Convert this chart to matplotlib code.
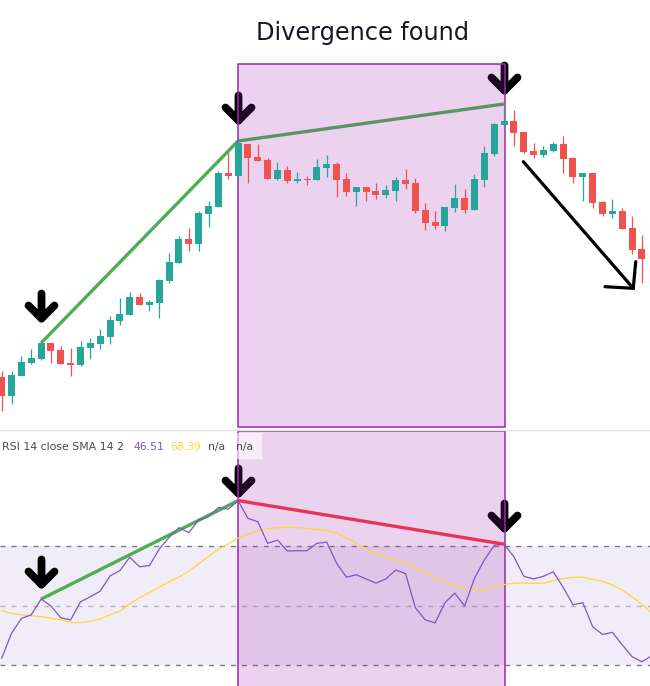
import numpy as np
import matplotlib
matplotlib.use("Agg")
import matplotlib.pyplot as plt
from matplotlib.patches import Rectangle
from matplotlib.path import Path
from matplotlib.markers import MarkerStyle
from matplotlib.lines import Line2D

# --- price candles (arbitrary price scale) ---
opens = [53, 34, 54, 67, 71, 87, 80, 67, 65, 82, 86, 93, 109, 115, 133, 125, 127, 149, 167, 191,
         186, 216, 223, 257, 254, 286, 273, 270, 251, 260, 249, 251, 250, 262, 266, 251, 238, 243,
         239, 235, 239, 250, 247, 220, 208, 204, 222, 232, 220, 250, 276, 305, 309, 298, 279, 275,
         279, 286, 272, 253, 257, 228, 216, 219, 202, 181]
highs = [59, 59, 74, 81, 87, 87, 84, 82, 89, 92, 101, 114, 132, 138, 137, 130, 151, 177, 194, 202,
         219, 229, 259, 280, 290, 286, 286, 272, 268, 264, 258, 254, 271, 275, 268, 257, 243, 243,
         247, 245, 253, 261, 252, 227, 219, 223, 246, 241, 256, 284, 307, 322, 320, 298, 287, 284,
         288, 294, 273, 257, 257, 229, 231, 222, 214, 195]
lows = [19, 26, 54, 66, 70, 67, 66, 54, 64, 71, 81, 86, 105, 115, 125, 119, 112, 147, 167, 179,
        179, 203, 223, 251, 252, 247, 269, 251, 250, 247, 247, 245, 250, 253, 233, 234, 224, 229,
        231, 232, 229, 241, 217, 200, 201, 199, 218, 217, 220, 243, 274, 304, 284, 277, 272, 273,
        278, 257, 247, 229, 222, 214, 212, 201, 176, 147]
closes = [34, 55, 68, 72, 87, 79, 66, 65, 83, 87, 94, 110, 116, 133, 125, 128, 150, 168, 191, 186,
          217, 224, 257, 254, 287, 272, 269, 251, 260, 249, 251, 250, 263, 266, 250, 238, 243, 238,
          235, 240, 250, 246, 219, 207, 204, 223, 232, 220, 251, 277, 306, 309, 297, 278, 275, 280,
          286, 271, 253, 257, 227, 216, 219, 201, 180, 171]

# --- RSI 14 and its SMA 14 ---
rsi = [32.3, 40.7, 45.7, 46.9, 52.2, 49.9, 45.9, 45.2, 51.3, 53.0, 54.9, 60.0, 61.8, 66.3, 63.1,
       63.5, 69.1, 73.0, 76.3, 74.6, 78.9, 80.0, 83.1, 82.5, 85.4, 79.4, 78.3, 71.0, 72.1, 68.4,
       68.5, 68.5, 71.0, 71.4, 64.3, 59.6, 60.4, 59.0, 57.6, 59.0, 62.0, 60.8, 49.3, 45.2, 44.2,
       51.0, 54.2, 49.9, 59.2, 65.4, 70.3, 70.7, 66.5, 59.9, 59.0, 59.9, 61.4, 56.2, 50.3, 51.0,
       42.9, 40.3, 41.0, 36.8, 32.8, 31.1, 33.1]
rsi_sma = [48.4, 47.4, 46.9, 46.6, 46.3, 45.8, 45.2, 44.3, 44.3, 44.7, 45.5, 46.9, 48.2, 50.6,
           52.7, 54.4, 56.3, 58.1, 59.7, 61.6, 64.1, 66.6, 69.0, 70.8, 72.7, 74.1, 75.3, 75.9,
           76.3, 76.4, 76.3, 76.0, 75.7, 75.4, 74.5, 72.8, 71.0, 69.2, 67.6, 66.4, 65.4, 64.5,
           62.9, 61.2, 59.4, 58.2, 57.0, 55.5, 55.3, 55.6, 56.4, 57.1, 57.6, 57.6, 57.5, 57.5,
           58.5, 59.1, 59.5, 59.6, 58.9, 58.2, 57.0, 55.3, 52.9, 50.4, 47.5]

# divergence window (candle indices) and marked pivots
window = (24, 51.05)
pivots = [4, 24, 51]
price_pivot_levels = [112, 310.5, 340]      # arrow tips above candles
rsi_pivot_levels = [57.3, 87.8, 76.2]       # arrow tips above rsi
price_trend_up = ([4, 24], [87, 289])
price_trend_div = ([24, 51], [289, 326])
rsi_trend_up = ([4, 24], [rsi[4], rsi[24]])
rsi_trend_div = ([24, 51], [rsi[24], rsi[51]])
sell_arrow = ([52.96, 64.12], [268.3, 141.7])
sell_head = ([61.25, 64.12, 64.37], [143.3, 141.7, 168.3])

UP = '#26a69a'
DOWN = '#ef5350'
PURPLE = '#9c27b0'

fig = plt.figure(figsize=(6.5, 6.86), dpi=100)
H = 686.0
ax = fig.add_axes([0, 257 / H, 1, 429 / H])
ax2 = fig.add_axes([0, 0, 1, 256 / H])
for a in (ax, ax2):
    a.set_axis_off()
    a.set_xlim(-0.173, 65.82)
ax.set_ylim(1, 430)
ax2.set_ylim(22.92, 109.19)

# down-arrow marker (tip at origin)
arrow_path = Path([(0, 0), (0, 25), (-13, 13), (0, 0), (13, 13)],
                  [Path.MOVETO, Path.LINETO, Path.MOVETO, Path.LINETO, Path.LINETO])
arrow_marker = MarkerStyle(arrow_path, fillstyle='none', capstyle='round', joinstyle='round')

# ---------- price panel ----------
x = np.arange(len(opens))
o = np.array(opens, float)
c = np.array(closes, float)
colors = [UP if cc >= oo else DOWN for oo, cc in zip(o, c)]
body_low = np.minimum(o, c)
body_h = np.maximum(np.abs(c - o), 1.5)
ax.vlines(x, lows, highs, colors=colors, linewidth=0.9, zorder=4)
ax.bar(x, body_h, bottom=body_low, width=0.71, color=colors, linewidth=0, zorder=4)

ax.plot(*price_trend_up, color='#4caf50', lw=2.4, solid_capstyle='butt', zorder=2)
ax.plot(*price_trend_div, color='#4caf50', lw=2.4, solid_capstyle='butt', zorder=2)
ax.plot(pivots, price_pivot_levels, linestyle='none', marker=arrow_marker, markersize=36,
        markeredgewidth=5.6, markeredgecolor='black', zorder=2)
ax.add_patch(Rectangle((window[0], 3), window[1] - window[0], 362.7,
                       facecolor=(156 / 255, 39 / 255, 176 / 255, 0.2), edgecolor=PURPLE,
                       linewidth=1.1, zorder=3))
ax.plot(*sell_arrow, color='black', lw=2.3, solid_capstyle='round', zorder=5)
ax.plot(*sell_head, color='black', lw=2.3, solid_capstyle='round', solid_joinstyle='miter', zorder=5)

fig.text(0.557, 1 - 33 / H, 'Divergence found', ha='center', va='center', fontsize=17.3,
         color='#131722')

# ---------- RSI panel ----------
xr = np.arange(len(rsi))
ax2.axhspan(30, 70, color=(126 / 255, 87 / 255, 194 / 255, 0.1), linewidth=0, zorder=0.5)
for lvl, alpha in ((70, 1.0), (50, 0.5), (30, 1.0)):
    ax2.axhline(lvl, color='#787b86', alpha=alpha, lw=1.0, linestyle=(0, (3.6, 4.3)), zorder=1)
ax2.plot(*rsi_trend_up, color='#4caf50', lw=2.4, solid_capstyle='butt', zorder=2)
ax2.plot(pivots, rsi_pivot_levels, linestyle='none', marker=arrow_marker, markersize=36,
         markeredgewidth=5.6, markeredgecolor='black', zorder=2)
ax2.add_patch(Rectangle((window[0], 15), window[1] - window[0], 108.96 - 15,
                        facecolor=(156 / 255, 39 / 255, 176 / 255, 0.2), edgecolor=PURPLE,
                        linewidth=1.1, zorder=3))
ax2.plot(xr, rsi_sma, color='#fdd835', lw=0.9, zorder=4)
ax2.plot(xr, rsi, color='#7e57c2', lw=0.9, zorder=4)
ax2.plot(*rsi_trend_div, color='#e8345a', lw=2.4, solid_capstyle='butt', zorder=5)

# legend strip
ax2.add_patch(Rectangle((0, (686 - 459) / 256), 262 / 650, 26 / 256, transform=ax2.transAxes,
                        facecolor=(1, 1, 1, 0.6), linewidth=0, zorder=6))
ly = (686 - 447) / 256
legend_parts = [('RSI 14 close SMA 14 2', 2, '#4a4a4a'), ('46.51', 133, '#7e57c2'),
                ('68.39', 170, '#fdd835'), ('n/a', 208, '#4a4a4a'), ('n/a', 236, '#4a4a4a')]
for txt, px, col in legend_parts:
    ax2.text(px / 650, ly, txt, transform=ax2.transAxes, ha='left', va='center', fontsize=7.8,
             color=col, zorder=7)

# panel separator
fig.add_artist(Line2D([0, 1], [256.5 / H, 256.5 / H], transform=fig.transFigure,
                      color='#e0e0e0', lw=1))

fig.savefig('out.png', dpi=100)
